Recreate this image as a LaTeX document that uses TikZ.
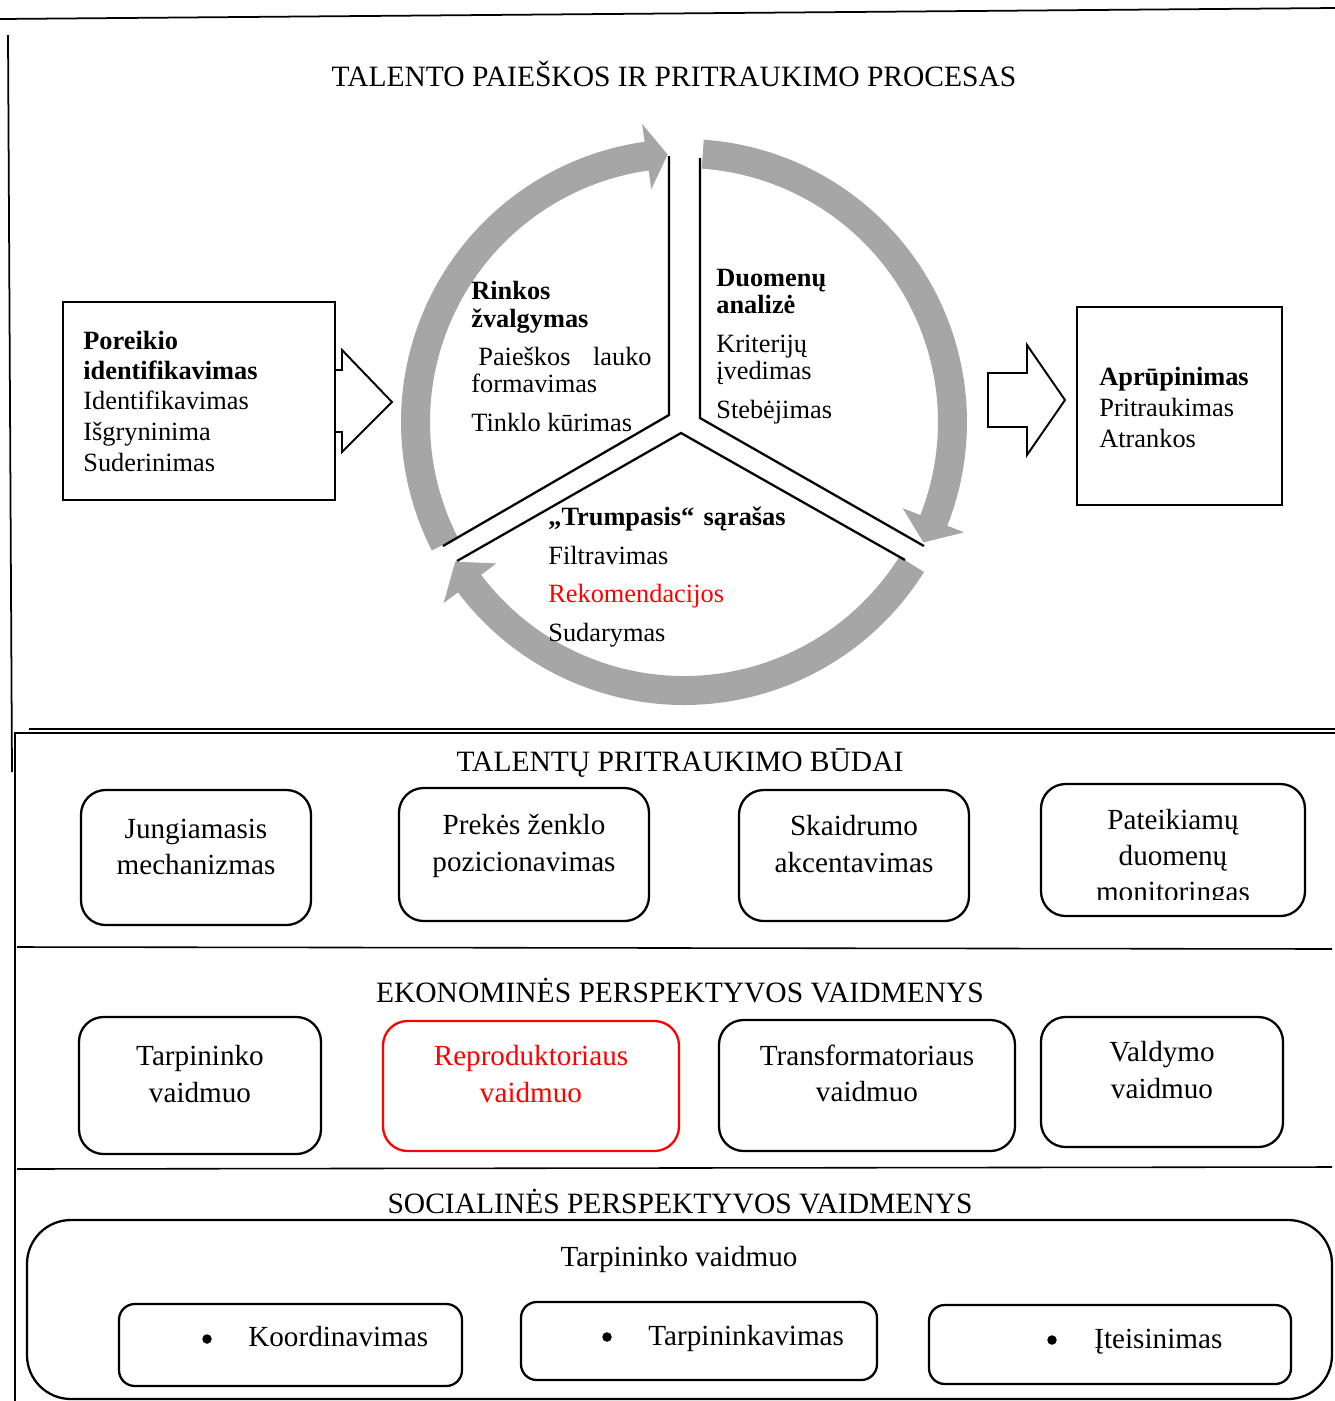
\documentclass[tikz,border=0pt]{standalone}
\usepackage{fontspec}
\setmainfont{Liberation Serif}
\newcommand\fsA{\fontsize{15}{15.3}\selectfont}
\newcommand\fsB{\fontsize{16.6}{21}\selectfont}
\newcommand\fsT{\fontsize{16.8}{21}\selectfont}
\definecolor{ringgray}{RGB}{166,166,166}
\definecolor{hilite}{RGB}{255,0,0}
\begin{document}
\begin{tikzpicture}[x=0.02cm,y=-0.02cm,
  thinline/.style={line width=0.9pt},
  rbox/.style={draw, line width=1.3pt, rounded corners=14pt},
  sqbox/.style={draw, line width=1.2pt, fill=white},
  blockarrow/.style={draw, line width=1.1pt, fill=white, line join=miter},
  divider/.style={line width=1.3pt},
  ln/.style={anchor=base west, inner sep=0pt, font=\fsA},
  lne/.style={anchor=base east, inner sep=0pt, font=\fsA},
  lnc/.style={anchor=base, inner sep=0pt, font=\fsB},
  lnt/.style={anchor=base, inner sep=0pt, font=\fsT},
  lnb/.style={anchor=base west, inner sep=0pt, font=\fsB},
  dot/.style={circle, fill, inner sep=0pt, minimum size=0.19cm},
]
\useasboundingbox (0,0) rectangle (1335,1401);

% page frame lines
\draw[line width=1pt] (0,19) -- (1335,8);
\draw[line width=1pt] (8,35) -- (12,772);
\draw[thinline] (29,729) -- (1335,729);
\draw[line width=1.6pt] (15,1401) -- (15,733) -- (1335,733);
\draw[thinline] (17,947) -- (1332,949);
\draw[thinline] (17,1169) -- (1332,1167);

% ---------- process ----------
\node[lnt] (title) at (674,86) {TALENTO PAIEŠKOS IR PRITRAUKIMO PROCESAS};

% left box with arrow behind it
\draw[blockarrow] (300,370) -- (342,370) -- (342,350) -- (392,402) -- (342,452) -- (342,432) -- (300,432) -- cycle;
\draw[sqbox] (63,302) rectangle (335,500);
\node[ln] (p1) at (83,349) {\bfseries Poreikio};
\node[ln] (p2) at (83,379) {\bfseries identifikavimas};
\node[ln] (p3) at (83,409) {Identifikavimas};
\node[ln] (p4) at (83,440) {Išgryninima};
\node[ln] (p5) at (83,471) {Suderinimas};

% cycle of three curved arrows
\def\ri{254}\def\ro{283}\def\hi{235}\def\ho{301}\def\rmid{268}
\newcommand\ringarrow[3]{%
  \fill[ringgray] (#1:\ri) arc[start angle=#1, end angle=#2, radius=\ri]
    -- (#2:\hi) -- (#3:\rmid) -- (#2:\ho) -- (#2:\ro)
    arc[start angle=#2, end angle=#1, radius=\ro] -- cycle;}
\begin{scope}[shift={(684,422)}, yscale=-1]
  \ringarrow{207}{98}{93.5}
  \ringarrow{86}{-21.5}{-26.7}
  \ringarrow{-32}{-143}{-148.6}
\end{scope}

% sector dividers
\draw[divider] (669,156) -- (669,415) -- (443,546);
\draw[divider] (700,158) -- (700,418) -- (924,546);
\draw[divider] (457,561) -- (681,433) -- (905,560);

% sector texts
\node[ln] (r1) at (471,299) {\bfseries Rinkos};
\node[ln] (r2) at (471,327) {\bfseries žvalgymas};
\node[ln] (r3) at (478,365) {Paieškos};
\node[lne] (r3b) at (652,365) {lauko};
\node[ln] (r4) at (471,392) {formavimas};
\node[ln] (r5) at (471,431) {Tinklo kūrimas};

\node[ln] (d1) at (716,286) {\bfseries Duomenų};
\node[ln] (d2) at (716,313) {\bfseries analizė};
\node[ln] (d3) at (716,352) {Kriterijų};
\node[ln] (d4) at (716,379) {įvedimas};
\node[ln] (d5) at (716,418) {Stebėjimas};

\node[ln] (t1) at (548,525) {\bfseries „Trumpasis“};
\node[lne] (t1b) at (786,525) {\bfseries sąrašas};
\node[ln] (t2) at (548,564) {Filtravimas};
\node[ln, text=hilite] (t3) at (548,602) {Rekomendacijos};
\node[ln] (t4) at (548,641) {Sudarymas};

% right arrow and box
\draw[blockarrow] (988,373) -- (1027,373) -- (1027,345) -- (1065,400) -- (1027,455) -- (1027,427) -- (988,427) -- cycle;
\draw[sqbox] (1077,307) rectangle (1282,505);
\node[ln] (a1) at (1099,385) {\bfseries Aprūpinimas};
\node[ln] (a2) at (1099,416) {Pritraukimas};
\node[ln] (a3) at (1099,447) {Atrankos};

% ---------- ways of attracting talent ----------
\node[lnt] (s1) at (680,771) {TALENTŲ PRITRAUKIMO BŪDAI};
\draw[rbox] (81,790) rectangle (311,925);
\node[lnc] (b1a) at (196,838) {Jungiamasis};
\node[lnc] (b1b) at (196,874) {mechanizmas};
\draw[rbox] (399,788) rectangle (649,921);
\node[lnc] (b2a) at (524,834) {Prekės ženklo};
\node[lnc] (b2b) at (524,871) {pozicionavimas};
\draw[rbox] (739,790) rectangle (969,921);
\node[lnc] (b3a) at (854,835) {Skaidrumo};
\node[lnc] (b3b) at (854,872) {akcentavimas};
\draw[rbox] (1041,784) rectangle (1305,916);
\node[lnc] (b4a) at (1173,829) {Pateikiamų};
\node[lnc] (b4b) at (1173,865) {duomenų};
\begin{scope}
  \clip (1041,784) rectangle (1305,899);
  \node[lnc] (b4c) at (1173,901) {monitoringas};
\end{scope}

% ---------- economic roles ----------
\node[lnt] (s2) at (680,1002) {EKONOMINĖS PERSPEKTYVOS VAIDMENYS};
\draw[rbox] (79,1017) rectangle (321,1154);
\node[lnc] (e1a) at (200,1065) {Tarpininko};
\node[lnc] (e1b) at (200,1102) {vaidmuo};
\draw[rbox, hilite] (383,1021) rectangle (679,1151);
\node[lnc, text=hilite] (e2a) at (531,1065) {Reproduktoriaus};
\node[lnc, text=hilite] (e2b) at (531,1102) {vaidmuo};
\draw[rbox] (719,1020) rectangle (1015,1151);
\node[lnc] (e3a) at (867,1065) {Transformatoriaus};
\node[lnc] (e3b) at (867,1101) {vaidmuo};
\draw[rbox] (1041,1017) rectangle (1283,1147);
\node[lnc] (e4a) at (1162,1061) {Valdymo};
\node[lnc] (e4b) at (1162,1098) {vaidmuo};

% ---------- social roles ----------
\node[lnt] (s3) at (680,1213) {SOCIALINĖS PERSPEKTYVOS VAIDMENYS};
\draw[rbox, rounded corners=25pt] (27,1220) rectangle (1332,1399);
\node[lnc] (m0) at (679,1266) {Tarpininko vaidmuo};
\draw[rbox, rounded corners=9pt] (119,1304) rectangle (462,1386);
\node[dot] (m1d) at (207,1339) {};
\node[lnb] (m1) at (248,1346) {Koordinavimas};
\draw[rbox, rounded corners=9pt] (521,1302) rectangle (877,1380);
\node[dot] (m2d) at (607,1337) {};
\node[lnb] (m2) at (648,1345) {Tarpininkavimas};
\draw[rbox, rounded corners=9pt] (929,1305) rectangle (1291,1384);
\node[dot] (m3d) at (1052,1340) {};
\node[lnb] (m3) at (1094,1348) {Įteisinimas};
\end{tikzpicture}
\end{document}
